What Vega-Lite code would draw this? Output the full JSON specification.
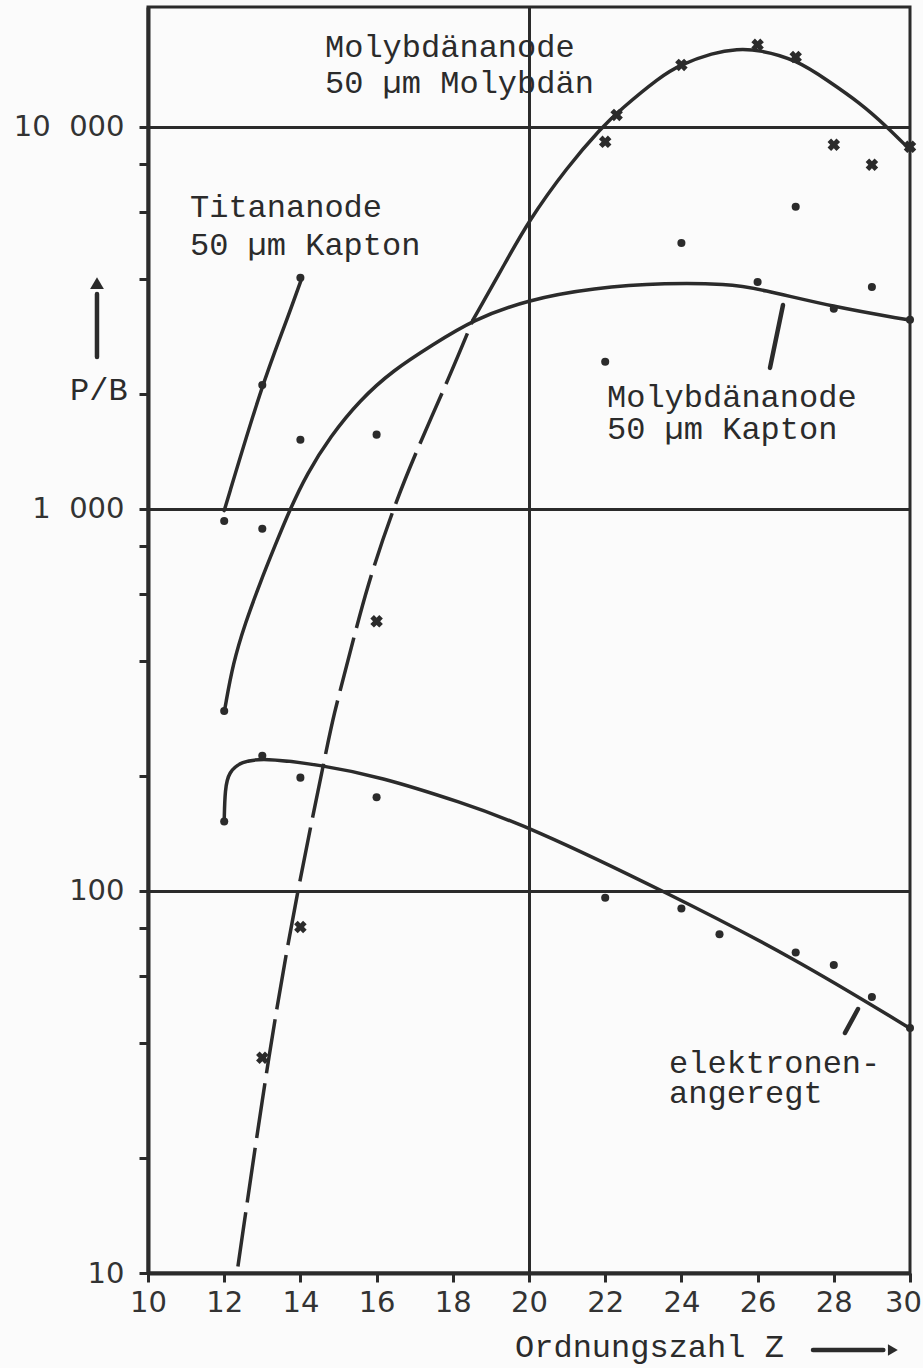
{
  "$schema": "https://vega.github.io/schema/vega-lite/v6.json",
  "width": 762,
  "height": 1266,
  "autosize": {"type": "none"},
  "padding": {"left": 148, "top": 7, "right": 13, "bottom": 95},
  "background": "#fbfbfb",
  "datasets": {
    "curves": [
      {"series": "Titan", "Z": 12.0, "P": 990},
      {"series": "Titan", "Z": 12.99, "P": 2113},
      {"series": "Titan", "Z": 13.6, "P": 3034},
      {"series": "Titan", "Z": 14.04, "P": 4027},
      {"series": "MoKapton", "Z": 12.02, "P": 301},
      {"series": "MoKapton", "Z": 12.23, "P": 394},
      {"series": "MoKapton", "Z": 12.55, "P": 502},
      {"series": "MoKapton", "Z": 12.94, "P": 640},
      {"series": "MoKapton", "Z": 13.33, "P": 800},
      {"series": "MoKapton", "Z": 13.73, "P": 1000},
      {"series": "MoKapton", "Z": 14.17, "P": 1235},
      {"series": "MoKapton", "Z": 14.78, "P": 1546},
      {"series": "MoKapton", "Z": 15.56, "P": 1927},
      {"series": "MoKapton", "Z": 16.43, "P": 2306},
      {"series": "MoKapton", "Z": 17.48, "P": 2692},
      {"series": "MoKapton", "Z": 18.53, "P": 3126},
      {"series": "MoKapton", "Z": 19.95, "P": 3524},
      {"series": "MoKapton", "Z": 21.68, "P": 3789},
      {"series": "MoKapton", "Z": 23.62, "P": 3908},
      {"series": "MoKapton", "Z": 25.2, "P": 3880},
      {"series": "MoKapton", "Z": 26.06, "P": 3767},
      {"series": "MoKapton", "Z": 27.98, "P": 3380},
      {"series": "MoKapton", "Z": 29.95, "P": 3126},
      {"series": "Elektron", "Z": 12.0, "P": 152},
      {"series": "Elektron", "Z": 12.02, "P": 185},
      {"series": "Elektron", "Z": 12.12, "P": 205},
      {"series": "Elektron", "Z": 12.45, "P": 218},
      {"series": "Elektron", "Z": 13.02, "P": 223},
      {"series": "Elektron", "Z": 14.51, "P": 214},
      {"series": "Elektron", "Z": 16.09, "P": 199},
      {"series": "Elektron", "Z": 18.19, "P": 171},
      {"series": "Elektron", "Z": 20.03, "P": 147},
      {"series": "Elektron", "Z": 23.62, "P": 99},
      {"series": "Elektron", "Z": 26.93, "P": 67},
      {"series": "Elektron", "Z": 29.95, "P": 44},
      {"series": "MoMo_dash", "Z": 12.36, "P": 10.4},
      {"series": "MoMo_dash", "Z": 13.2, "P": 39.5},
      {"series": "MoMo_dash", "Z": 13.91, "P": 99},
      {"series": "MoMo_dash", "Z": 14.65, "P": 225},
      {"series": "MoMo_dash", "Z": 14.86, "P": 286},
      {"series": "MoMo_dash", "Z": 15.3, "P": 419},
      {"series": "MoMo_dash", "Z": 15.75, "P": 628},
      {"series": "MoMo_dash", "Z": 16.43, "P": 1000},
      {"series": "MoMo_dash", "Z": 17.06, "P": 1430},
      {"series": "MoMo_dash", "Z": 17.93, "P": 2239},
      {"series": "MoMo_dash", "Z": 18.53, "P": 3126},
      {"series": "MoMo", "Z": 18.53, "P": 3126},
      {"series": "MoMo", "Z": 19.32, "P": 4300},
      {"series": "MoMo", "Z": 19.97, "P": 5640},
      {"series": "MoMo", "Z": 21.0, "P": 7850},
      {"series": "MoMo", "Z": 21.92, "P": 10000},
      {"series": "MoMo", "Z": 22.39, "P": 11080},
      {"series": "MoMo", "Z": 23.44, "P": 13520},
      {"series": "MoMo", "Z": 23.96, "P": 14530},
      {"series": "MoMo", "Z": 24.83, "P": 15630},
      {"series": "MoMo", "Z": 25.46, "P": 16000},
      {"series": "MoMo", "Z": 26.06, "P": 15910},
      {"series": "MoMo", "Z": 27.03, "P": 14970},
      {"series": "MoMo", "Z": 27.82, "P": 13270},
      {"series": "MoMo", "Z": 28.69, "P": 11560},
      {"series": "MoMo", "Z": 29.4, "P": 10000},
      {"series": "MoMo", "Z": 29.95, "P": 8810}
    ],
    "dots": [
      {"series": "Titan", "Z": 12, "P": 930},
      {"series": "Titan", "Z": 13, "P": 2110},
      {"series": "Titan", "Z": 14, "P": 4030},
      {"series": "MoKapton", "Z": 12, "P": 296},
      {"series": "MoKapton", "Z": 13, "P": 887},
      {"series": "MoKapton", "Z": 14, "P": 1517},
      {"series": "MoKapton", "Z": 16, "P": 1565},
      {"series": "MoKapton", "Z": 22, "P": 2427},
      {"series": "MoKapton", "Z": 24, "P": 4966},
      {"series": "MoKapton", "Z": 26, "P": 3928},
      {"series": "MoKapton", "Z": 27, "P": 6180},
      {"series": "MoKapton", "Z": 28, "P": 3342},
      {"series": "MoKapton", "Z": 29, "P": 3811},
      {"series": "MoKapton", "Z": 30, "P": 3126},
      {"series": "Elektron", "Z": 12, "P": 152},
      {"series": "Elektron", "Z": 13, "P": 226},
      {"series": "Elektron", "Z": 14, "P": 198},
      {"series": "Elektron", "Z": 16, "P": 176},
      {"series": "Elektron", "Z": 22, "P": 96},
      {"series": "Elektron", "Z": 24, "P": 90},
      {"series": "Elektron", "Z": 25, "P": 77},
      {"series": "Elektron", "Z": 27, "P": 69},
      {"series": "Elektron", "Z": 28, "P": 64},
      {"series": "Elektron", "Z": 29, "P": 52.8},
      {"series": "Elektron", "Z": 30, "P": 43.8}
    ],
    "crosses": [
      {"series": "MoMo", "Z": 13, "P": 36.6},
      {"series": "MoMo", "Z": 14, "P": 80.5},
      {"series": "MoMo", "Z": 16, "P": 508},
      {"series": "MoMo", "Z": 22, "P": 9140},
      {"series": "MoMo", "Z": 22.3, "P": 10750},
      {"series": "MoMo", "Z": 24, "P": 14530},
      {"series": "MoMo", "Z": 26, "P": 16400},
      {"series": "MoMo", "Z": 27, "P": 15240},
      {"series": "MoMo", "Z": 28, "P": 8980},
      {"series": "MoMo", "Z": 29, "P": 7960},
      {"series": "MoMo", "Z": 30, "P": 8870}
    ],
    "strokes": [
      {"what": "leader Mo/Kapton", "Z": 26.667, "P": 3420, "Z2": 26.325, "P2": 2340},
      {"what": "leader elektronen", "Z": 28.635, "P": 49.1, "Z2": 28.294, "P2": 42.5},
      {"what": "arrow P/B", "Z": 8.661, "P": 2500, "Z2": 8.661, "P2": 3650},
      {"what": "arrow Z", "Z": 27.454, "P": 6.287, "Z2": 29.3, "P2": 6.287}
    ],
    "heads": [
      {"dir": "up", "Z": 8.661, "P": 3900},
      {"dir": "right", "Z": 29.55, "P": 6.287}
    ],
    "notes": [
      {"label": "Molybdänanode", "Z": 14.646, "P": 15240},
      {"label": "50  µm Molybdän", "Z": 14.646, "P": 12270},
      {"label": "Titananode", "Z": 11.102, "P": 5808},
      {"label": "50  µm Kapton", "Z": 11.102, "P": 4624},
      {"label": "Molybdänanode", "Z": 22.047, "P": 1849},
      {"label": "50  µm Kapton", "Z": 22.047, "P": 1524},
      {"label": "elektronen-", "Z": 23.675, "P": 33.4},
      {"label": "angeregt", "Z": 23.675, "P": 27.9},
      {"label": "P/B", "Z": 7.953, "P": 1928},
      {"label": "Ordnungszahl  Z", "Z": 19.633, "P": 6.03}
    ]
  },
  "encoding": {
    "x": {
      "field": "Z", "type": "quantitative",
      "scale": {"domain": [10, 30], "nice": false, "zero": false},
      "axis": {
        "title": null,
        "values": [10, 12, 14, 16, 18, 20, 22, 24, 26, 28, 30],
        "grid": true,
        "gridOpacity": {"condition": {"test": "datum.value == 20", "value": 1}, "value": 0},
        "labelFlush": false,
        "labelOverlap": false,
        "labelPadding": 6,
        "labelOffset": {"condition": {"test": "datum.value == 30", "value": -7}, "value": 0}
      }
    },
    "y": {
      "field": "P", "type": "quantitative",
      "scale": {"type": "log", "domain": [10, 20600], "nice": false},
      "axis": {
        "title": null,
        "values": [10, 20, 40, 60, 80, 100, 200, 400, 600, 800, 1000, 2000, 4000, 6000, 8000, 10000],
        "grid": true,
        "gridOpacity": {"condition": {"test": "datum.value == 100 || datum.value == 1000 || datum.value == 10000", "value": 1}, "value": 0},
        "labelExpr": "datum.value == 10000 ? '10\u2007000' : datum.value == 1000 ? '1\u2007000' : datum.value == 100 ? '100' : datum.value == 10 ? '10' : ''",
        "labelFlush": false,
        "labelOverlap": false,
        "labelPadding": 15
      }
    }
  },
  "layer": [
    {
      "data": {"name": "curves"},
      "transform": [{"filter": "datum.series != 'MoMo_dash'"}],
      "mark": {"type": "line", "interpolate": "basis", "color": "#2b2b2b", "strokeWidth": 3.5, "strokeCap": "round"},
      "encoding": {"detail": {"field": "series"}}
    },
    {
      "data": {"name": "curves"},
      "transform": [{"filter": "datum.series == 'MoMo_dash'"}],
      "mark": {"type": "line", "interpolate": "basis", "color": "#2b2b2b", "strokeWidth": 3.5, "strokeDash": [55, 10]},
      "encoding": {"detail": {"field": "series"}}
    },
    {
      "data": {"name": "dots"},
      "mark": {"type": "point", "shape": "circle", "filled": true, "size": 65, "color": "#2b2b2b", "opacity": 1}
    },
    {
      "data": {"name": "crosses"},
      "mark": {"type": "point", "shape": "cross", "angle": 45, "filled": true, "size": 160, "color": "#2b2b2b", "opacity": 1}
    },
    {
      "data": {"name": "strokes"},
      "mark": {"type": "rule", "color": "#2b2b2b", "strokeWidth": 4.5, "strokeCap": "round"},
      "encoding": {"x2": {"field": "Z2"}, "y2": {"field": "P2"}}
    },
    {
      "data": {"name": "heads"},
      "transform": [{"filter": "datum.dir == 'up'"}],
      "mark": {"type": "point", "shape": "triangle-up", "filled": true, "size": 190, "color": "#2b2b2b", "opacity": 1}
    },
    {
      "data": {"name": "heads"},
      "transform": [{"filter": "datum.dir == 'right'"}],
      "mark": {"type": "point", "shape": "triangle-right", "filled": true, "size": 130, "color": "#2b2b2b", "opacity": 1}
    },
    {
      "data": {"name": "notes"},
      "mark": {"type": "text", "align": "left", "baseline": "alphabetic", "font": "Liberation Mono", "fontSize": 32, "color": "#2b2b2b"},
      "encoding": {"text": {"field": "label"}}
    }
  ],
  "config": {
    "view": {"stroke": "#2b2b2b", "strokeWidth": 3},
    "axis": {
      "domainColor": "#2b2b2b",
      "domainWidth": 4,
      "tickColor": "#2b2b2b",
      "tickWidth": 3,
      "tickSize": 9,
      "gridColor": "#2b2b2b",
      "gridWidth": 3,
      "labelFont": "DejaVu Sans",
      "labelFontSize": 29,
      "labelColor": "#333333"
    }
  }
}
